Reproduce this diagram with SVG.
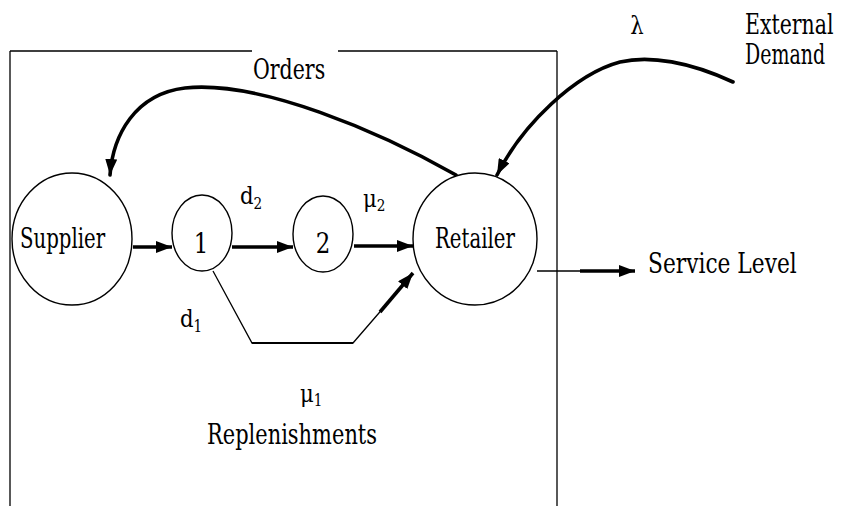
<svg xmlns="http://www.w3.org/2000/svg" width="846" height="506" viewBox="0 0 846 506">
<style>
text{fill:#000;font-size:27px}
.sym{font-size:25px}
.sub{font-size:16px}
.node{fill:#fff;stroke:#000;stroke-width:1.4}
.thin{fill:none;stroke:#000;stroke-width:1.3}
.thick{fill:none;stroke:#000;stroke-width:3.6}
.arc{fill:none;stroke:#000;stroke-width:3.6;stroke-linecap:round}
</style>
<defs>
<marker id="ah" viewBox="0 0 16 12" refX="16" refY="6" markerWidth="16" markerHeight="12" markerUnits="userSpaceOnUse" orient="auto">
<path d="M0,0 L16,6 L0,12 z" fill="#000"/>
</marker>
</defs>
<g font-family="DejaVu Serif, serif">
<g id="boundary">
<path class="thin" d="M10,51 H252 M338,51 H557 M10,51 V506 M557,51 V506" stroke-width="1.6"/>
</g>
<g id="connectors">
<path class="arc" d="M456,175 C 380,132 260,80 185,88 C 135,94 113,135 110,175" marker-end="url(#ah)"/>
<path class="arc" d="M733,82 C 690,62 650,55 620,62 C 575,74 522,125 497,175" marker-end="url(#ah)"/>
<line class="thick" x1="133" y1="247" x2="172" y2="247" marker-end="url(#ah)"/>
<line class="thick" x1="232" y1="247" x2="293" y2="247" marker-end="url(#ah)"/>
<line class="thick" x1="354" y1="246" x2="413" y2="246" marker-end="url(#ah)"/>
<polyline class="thin" points="213,271 252,343 353,343 385,306"/>
<line x1="252" y1="343" x2="353" y2="343" stroke="#000" stroke-width="2.2"/>
<line class="thick" x1="380" y1="312" x2="413" y2="273" stroke-width="3" marker-end="url(#ah)"/>
<line class="thin" x1="537" y1="271" x2="582" y2="271"/>
<line class="thick" x1="580" y1="271" x2="635" y2="271" marker-end="url(#ah)"/>
</g>
<g id="supplier">
<ellipse class="node" cx="72" cy="239" rx="60" ry="66"/>
<text transform="translate(20,248) scale(0.74,1)" textLength="115" lengthAdjust="spacingAndGlyphs">Supplier</text>
</g>
<g id="stage1">
<ellipse class="node" cx="202" cy="233" rx="30" ry="38"/>
<text transform="translate(201,253) scale(0.85,1)" text-anchor="middle">1</text>
</g>
<g id="stage2">
<ellipse class="node" cx="323" cy="234" rx="30" ry="38"/>
<text transform="translate(323,253) scale(0.85,1)" text-anchor="middle">2</text>
</g>
<g id="retailer">
<ellipse class="node" cx="475" cy="239" rx="62" ry="66"/>
<text transform="translate(435,248) scale(0.74,1)" textLength="108" lengthAdjust="spacingAndGlyphs">Retailer</text>
</g>
<g id="labels">
<text transform="translate(253,79) scale(0.76,1)" textLength="95" lengthAdjust="spacingAndGlyphs">Orders</text>
<text transform="translate(637,34) scale(0.85,1)" text-anchor="middle" class="sym">λ</text>
<text transform="translate(745,34) scale(0.75,1)" textLength="118" lengthAdjust="spacingAndGlyphs">External</text>
<text transform="translate(745,64) scale(0.71,1)" textLength="113" lengthAdjust="spacingAndGlyphs">Demand</text>
<text transform="translate(240,204) scale(0.85,1)" class="sym">d<tspan class="sub" dy="5">2</tspan></text>
<text transform="translate(363,207) scale(0.85,1)" class="sym">μ<tspan class="sub" dy="4">2</tspan></text>
<text transform="translate(180,327) scale(0.85,1)" class="sym">d<tspan class="sub" dy="5">1</tspan></text>
<text transform="translate(300,402) scale(0.85,1)" class="sym">μ<tspan class="sub" dy="4">1</tspan></text>
<text transform="translate(207,444) scale(0.78,1)" textLength="218" lengthAdjust="spacingAndGlyphs">Replenishments</text>
<text transform="translate(648,273) scale(0.8,1)" textLength="186" lengthAdjust="spacingAndGlyphs">Service Level</text>
</g>
</g>
</svg>
